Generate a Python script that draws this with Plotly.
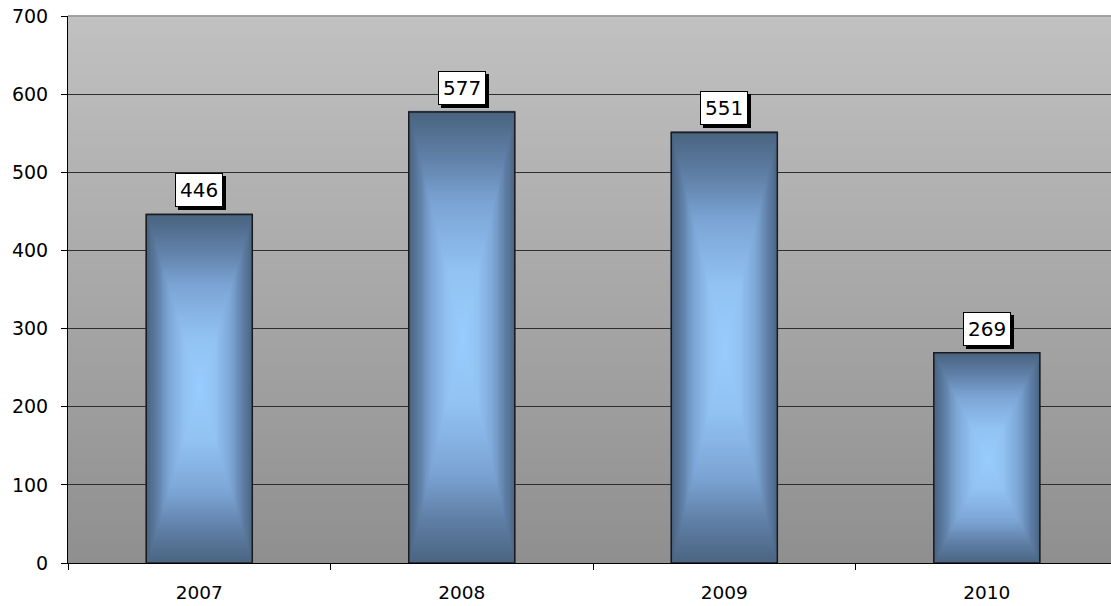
import numpy as np
import plotly.graph_objects as go

# Data
years = ["2007", "2008", "2009", "2010"]
counts = [446, 577, 551, 269]
y_ticks = [0, 100, 200, 300, 400, 500, 600, 700]

BAR_W = 0.404
FONT = "DejaVu Sans"
xs = list(range(len(years)))

fig = go.Figure()

# Rectangular "from centre" gradient inside each bar
nx, ny = 90, 180
u = np.linspace(-1, 1, nx)
v = np.linspace(-1, 1, ny)
U, V = np.meshgrid(u, v)
shade = np.maximum(np.abs(U), np.abs(V))
bar_scale = [
    [0.0, "#99CCFF"],
    [0.3, "#91C2F2"],
    [0.6, "#7BA4D4"],
    [0.8, "#6080A7"],
    [1.0, "#4A6481"],
]
for x, c in zip(xs, counts):
    fig.add_trace(go.Heatmap(
        x=np.linspace(x - BAR_W / 2, x + BAR_W / 2, nx),
        y=np.linspace(0, c, ny),
        z=shade,
        zmin=0, zmax=1,
        colorscale=bar_scale,
        zsmooth="best",
        showscale=False,
        hoverinfo="skip",
    ))

# Bar outlines
fig.add_trace(go.Bar(
    x=xs, y=counts, width=BAR_W,
    marker=dict(color="rgba(0,0,0,0)", line=dict(color="#1a1a1a", width=1.5)),
    hoverinfo="x+y",
))

# Value labels: black drop shadow box under a white bordered box
for x, c in zip(xs, counts):
    for dx, dy, bg in ((3, -3, "black"), (0, 0, "white")):
        fig.add_annotation(
            x=x, y=c, text=str(c), showarrow=False,
            yanchor="bottom", xanchor="center",
            xshift=dx, yshift=7 + dy,
            font=dict(family=FONT, size=20, color="black"),
            bgcolor=bg, bordercolor="black", borderwidth=1, borderpad=4,
        )

# Vertical grey gradient for the plot area background
n_strips = 90
top = np.array([193, 193, 193])
bot = np.array([143, 143, 143])
shapes = []
for i in range(n_strips):
    t = (i + 0.5) / n_strips
    col = top + (bot - top) * t
    shapes.append(dict(
        type="rect", xref="x domain", yref="y domain",
        x0=0, x1=1, y0=1 - (i + 1) / n_strips, y1=1 - i / n_strips + 0.002,
        fillcolor="rgb(%d,%d,%d)" % tuple(col.round()),
        line=dict(width=0), layer="below",
    ))
shapes.append(dict(
    type="line", xref="x domain", yref="y domain",
    x0=0, x1=1, y0=1, y1=1, line=dict(color="#808080", width=1), layer="above",
))

fig.update_layout(
    width=1111, height=606,
    margin=dict(l=68, r=0, t=16, b=43),
    paper_bgcolor="white",
    plot_bgcolor="white",
    showlegend=False,
    shapes=shapes,
    font=dict(family=FONT, size=18, color="black"),
    xaxis=dict(
        range=[-0.5, 3.473],
        tickmode="array", tickvals=xs, ticktext=years,
        ticks="", showgrid=False, zeroline=False,
        showline=True, linecolor="black", linewidth=1,
        ticklabelstandoff=13,
        tickfont=dict(family=FONT, size=18.5, color="black"),
        minor=dict(tickmode="array", tickvals=[-0.5, 0.5, 1.5, 2.5, 3.5],
                   ticks="outside", ticklen=6, tickcolor="black", tickwidth=1,
                   showgrid=False),
    ),
    yaxis=dict(
        range=[0, 700],
        tickmode="array", tickvals=y_ticks,
        ticks="outside", ticklen=6, tickcolor="black", tickwidth=1,
        ticklabelstandoff=9,
        showgrid=True, gridcolor="#2e2e2e", gridwidth=1,
        zeroline=False,
        showline=True, linecolor="black", linewidth=1,
        tickfont=dict(family=FONT, size=19, color="black"),
    ),
)

fig.write_html("out.html")
